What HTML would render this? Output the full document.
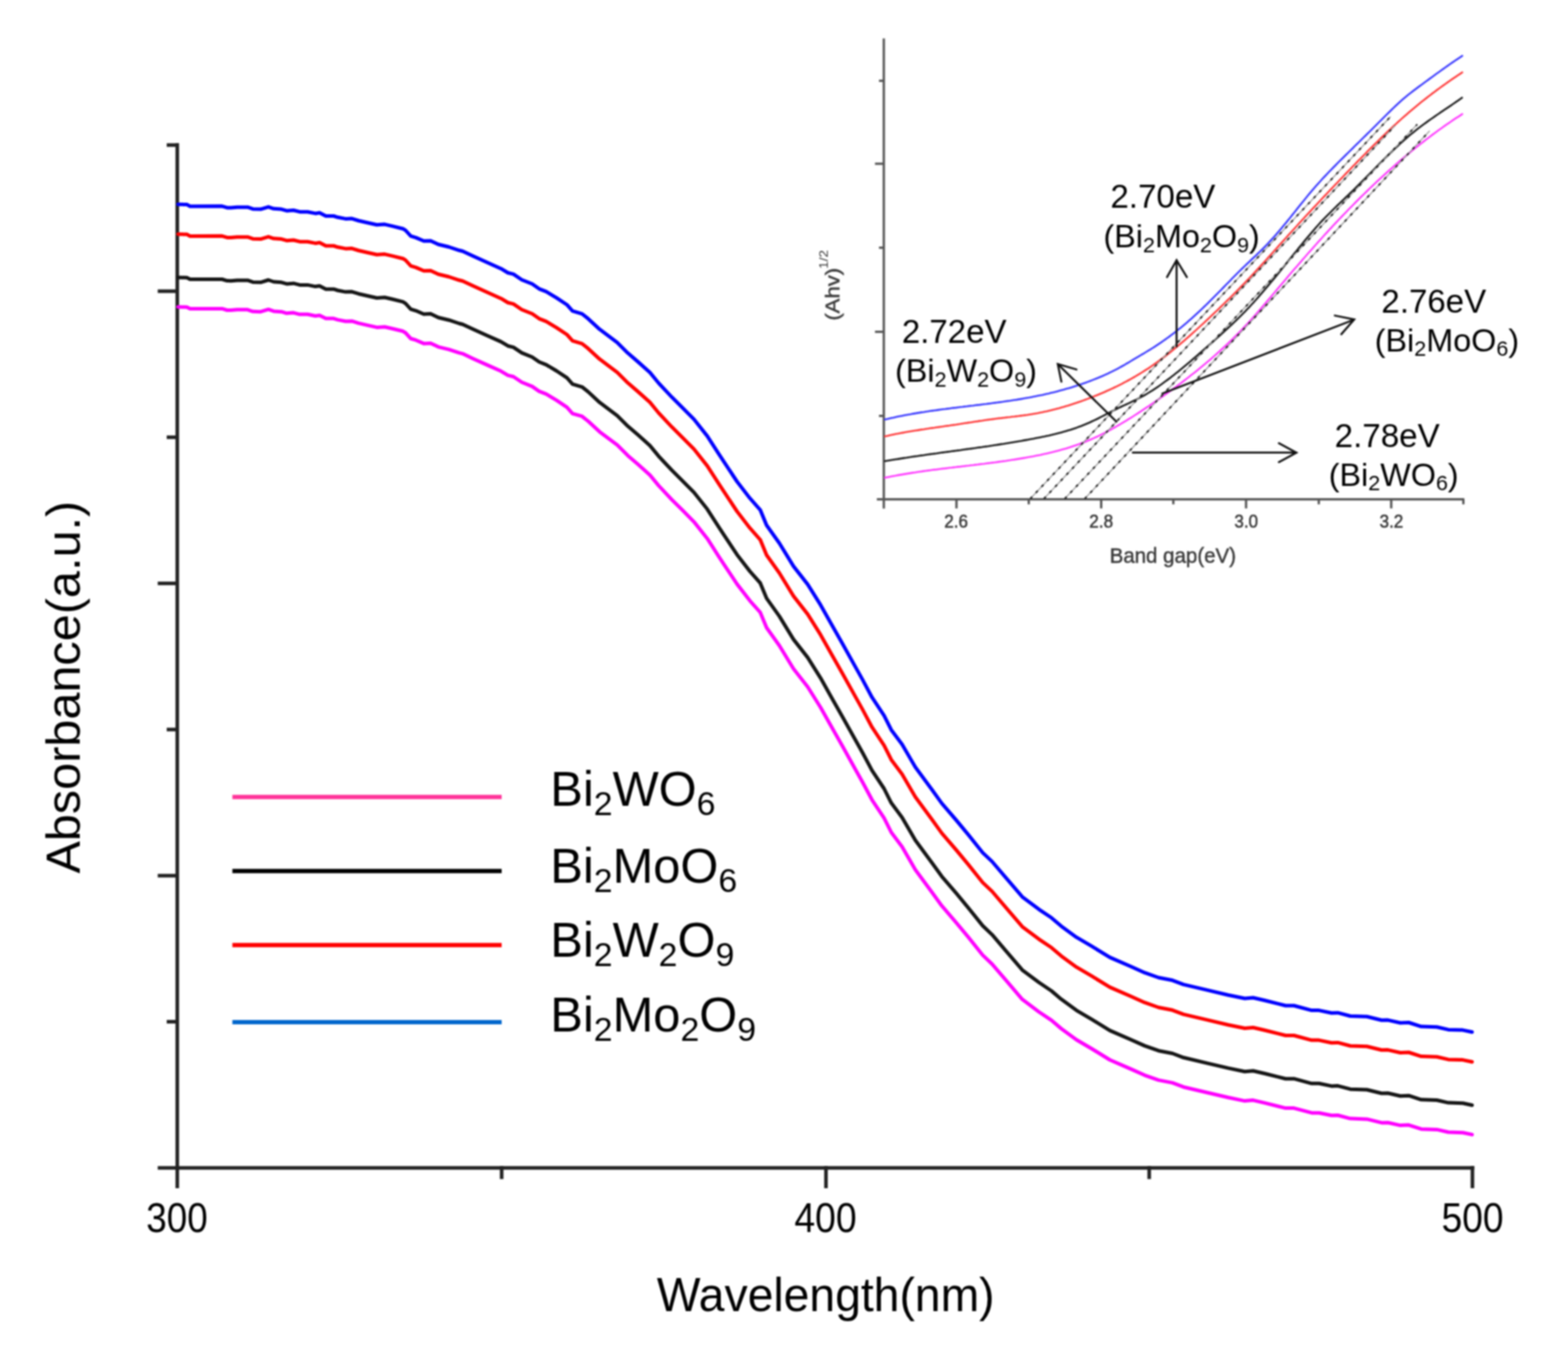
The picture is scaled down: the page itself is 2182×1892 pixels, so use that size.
<!DOCTYPE html><html><head><meta charset="utf-8"><title>Absorbance spectra</title><style>html,body{margin:0;padding:0;background:#fff;width:2182px;height:1892px;overflow:hidden}svg{display:block;filter:blur(0.8px)}text{font-family:"Liberation Sans",Arial,sans-serif}</style></head><body>
<svg width="2182" height="1892" viewBox="0 0 2182 1892">
<rect width="2182" height="1892" fill="#fff"/>
<g stroke="#222" stroke-width="5" fill="none">
<line x1="246.7" y1="199.3" x2="246.7" y2="1653"/>
<line x1="219.5" y1="1624.7" x2="2051.5" y2="1624.7"/>
<line x1="232" y1="201.8" x2="249" y2="201.8"/>
<line x1="232" y1="608.3" x2="249" y2="608.3"/>
<line x1="232" y1="1014.9" x2="249" y2="1014.9"/>
<line x1="232" y1="1421.4" x2="249" y2="1421.4"/>
<line x1="219.5" y1="405.1" x2="249" y2="405.1"/>
<line x1="219.5" y1="811.6" x2="249" y2="811.6"/>
<line x1="219.5" y1="1218.2" x2="249" y2="1218.2"/>
<line x1="1149.4" y1="1622" x2="1149.4" y2="1653"/>
<line x1="2049" y1="1622" x2="2049" y2="1653"/>
<line x1="698.1" y1="1622" x2="698.1" y2="1640.3"/>
<line x1="1599.2" y1="1622" x2="1599.2" y2="1640.3"/>
</g>
<text transform="translate(203.47,1714.30) scale(0.9012,1)" font-size="57" fill="#000" >300</text>
<text transform="translate(1105.43,1714.30) scale(0.9113,1)" font-size="57" fill="#000" >400</text>
<text transform="translate(2005.93,1714.30) scale(0.9081,1)" font-size="57" fill="#000" >500</text>
<text transform="translate(913.98,1824.00) scale(0.9686,1)" font-size="66.5" fill="#000" >Wavelength(nm)</text>
<text transform="translate(110.5,1215.37) rotate(-90) scale(1.0248,1)" font-size="66" fill="#000">Absorbance(a.u.)</text>
<path d="M247.7,426.9 L260.0,427.2 L264.5,429.5 L309.0,429.4 L316.0,431.5 L321.3,431.6 L330.0,430.8 L344.5,430.8 L351.8,433.3 L362.7,433.7 L373.5,430.4 L380.8,432.9 L391.7,433.7 L398.9,435.8 L408.4,435.1 L417.1,437.3 L428.0,437.3 L438.9,439.5 L444.7,438.7 L453.4,443.1 L464.3,443.1 L470.0,444.9 L480.9,447.0 L489.6,446.7 L499.0,449.6 L509.9,452.1 L524.4,455.4 L535.3,454.7 L546.2,457.2 L560.7,460.8 L564.3,463.0 L571.6,471.0 L578.9,473.2 L589.7,477.9 L599.2,477.5 L610.0,482.6 L624.5,486.1 L639.0,490.9 L643.9,492.1 L658.4,498.9 L677.7,507.6 L697.1,516.3 L706.8,522.1 L714.5,524.0 L726.1,531.8 L740.6,537.6 L750.3,544.4 L760.0,548.2 L774.5,556.9 L789.0,566.6 L796.7,575.3 L810.0,579.2 L818.4,585.9 L834.4,600.7 L858.9,619.1 L873.7,633.8 L888.0,646.1 L904.4,660.8 L916.6,675.6 L935.0,695.2 L950.0,710.1 L965.7,725.9 L984.2,749.2 L1000.0,773.8 L1007.9,785.8 L1025.7,812.6 L1043.6,835.8 L1057.9,851.9 L1066.8,873.3 L1084.6,898.3 L1104.3,930.5 L1123.9,955.5 L1141.8,984.0 L1157.9,1012.6 L1172.1,1037.6 L1190.0,1069.7 L1200.1,1087.7 L1213.5,1112.8 L1230.2,1137.9 L1240.3,1158.0 L1255.3,1178.1 L1273.8,1209.9 L1297.2,1241.7 L1310.6,1260.2 L1330.7,1283.6 L1347.4,1303.7 L1367.5,1328.8 L1380.5,1341.1 L1399.4,1363.2 L1422.6,1390.3 L1445.8,1407.7 L1463.2,1419.4 L1476.8,1431.0 L1498.0,1446.5 L1519.3,1459.0 L1544.5,1474.5 L1573.5,1487.1 L1592.9,1495.8 L1612.2,1502.6 L1631.6,1506.4 L1647.0,1512.2 L1680.0,1520.0 L1709.0,1526.8 L1732.2,1531.6 L1743.8,1530.6 L1760.0,1534.4 L1789.0,1541.6 L1800.6,1541.6 L1825.3,1548.2 L1835.5,1548.2 L1852.9,1551.8 L1861.6,1551.5 L1879.0,1556.1 L1902.2,1556.9 L1922.6,1561.9 L1931.3,1561.7 L1948.7,1565.6 L1960.3,1565.1 L1977.7,1570.7 L1999.5,1571.4 L2015.4,1575.0 L2035.8,1575.7 L2048.5,1578.4" fill="none" stroke="#ff00ff" stroke-width="5.0" stroke-linejoin="round" stroke-linecap="round"/>
<path d="M247.7,386.0 L260.0,386.3 L264.5,388.6 L309.0,388.5 L316.0,390.6 L321.3,390.7 L330.0,389.9 L344.5,389.9 L351.8,392.4 L362.7,392.8 L373.5,389.5 L380.8,392.0 L391.7,392.8 L398.9,394.9 L408.4,394.2 L417.1,396.4 L428.0,396.4 L438.9,398.6 L444.7,397.8 L453.4,402.2 L464.3,402.2 L470.0,404.0 L480.9,406.1 L489.6,405.8 L499.0,408.7 L509.9,411.2 L524.4,414.5 L535.3,413.8 L546.2,416.3 L560.7,419.9 L564.3,422.1 L571.6,430.1 L578.9,432.3 L589.7,437.0 L599.2,436.6 L610.0,441.7 L624.5,445.2 L639.0,450.0 L643.9,451.2 L658.4,458.0 L677.7,466.7 L697.1,475.4 L706.8,481.2 L714.5,483.1 L726.1,490.9 L740.6,496.7 L750.3,503.5 L760.0,507.3 L774.5,516.0 L789.0,525.7 L796.7,534.4 L810.0,538.3 L818.4,545.0 L834.4,559.8 L858.9,578.2 L873.7,592.9 L888.0,605.2 L904.4,619.9 L916.6,634.7 L935.0,654.3 L950.0,669.2 L965.7,685.0 L984.2,708.3 L1000.0,732.9 L1007.9,744.9 L1025.7,771.7 L1043.6,794.9 L1057.9,811.0 L1066.8,832.4 L1084.6,857.4 L1104.3,889.6 L1123.9,914.6 L1141.8,943.1 L1157.9,971.7 L1172.1,996.7 L1190.0,1028.8 L1200.1,1046.8 L1213.5,1071.9 L1230.2,1097.0 L1240.3,1117.1 L1255.3,1137.2 L1273.8,1169.0 L1297.2,1200.8 L1310.6,1219.3 L1330.7,1242.7 L1347.4,1262.8 L1367.5,1287.9 L1380.5,1300.2 L1399.4,1322.3 L1422.6,1349.4 L1445.8,1366.8 L1463.2,1378.5 L1476.8,1390.1 L1498.0,1405.6 L1519.3,1418.1 L1544.5,1433.6 L1573.5,1446.2 L1592.9,1454.9 L1612.2,1461.7 L1631.6,1465.5 L1647.0,1471.3 L1680.0,1479.1 L1709.0,1485.9 L1732.2,1490.7 L1743.8,1489.7 L1760.0,1493.5 L1789.0,1500.7 L1800.6,1500.7 L1825.3,1507.3 L1835.5,1507.3 L1852.9,1510.9 L1861.6,1510.6 L1879.0,1515.2 L1902.2,1516.0 L1922.6,1521.0 L1931.3,1520.8 L1948.7,1524.7 L1960.3,1524.2 L1977.7,1529.8 L1999.5,1530.5 L2015.4,1534.1 L2035.8,1534.8 L2048.5,1537.5" fill="none" stroke="#151515" stroke-width="5.0" stroke-linejoin="round" stroke-linecap="round"/>
<path d="M247.7,325.8 L260.0,326.1 L264.5,328.4 L309.0,328.3 L316.0,330.4 L321.3,330.5 L330.0,329.7 L344.5,329.7 L351.8,332.2 L362.7,332.6 L373.5,329.3 L380.8,331.8 L391.7,332.6 L398.9,334.7 L408.4,334.0 L417.1,336.2 L428.0,336.2 L438.9,338.4 L444.7,337.6 L453.4,342.0 L464.3,342.0 L470.0,343.8 L480.9,345.9 L489.6,345.6 L499.0,348.5 L509.9,351.0 L524.4,354.3 L535.3,353.6 L546.2,356.1 L560.7,359.7 L564.3,361.9 L571.6,369.9 L578.9,372.1 L589.7,376.8 L599.2,376.4 L610.0,381.5 L624.5,385.0 L639.0,389.8 L643.9,391.0 L658.4,397.8 L677.7,406.5 L697.1,415.2 L706.8,421.0 L714.5,422.9 L726.1,430.7 L740.6,436.5 L750.3,443.3 L760.0,447.1 L774.5,455.8 L789.0,465.5 L796.7,474.2 L810.0,478.1 L818.4,484.8 L834.4,499.6 L858.9,518.0 L873.7,532.7 L888.0,545.0 L904.4,559.7 L916.6,574.5 L935.0,594.1 L950.0,609.0 L965.7,624.8 L984.2,648.1 L1000.0,672.7 L1007.9,684.7 L1025.7,711.5 L1043.6,734.7 L1057.9,750.8 L1066.8,772.2 L1084.6,797.2 L1104.3,829.4 L1123.9,854.4 L1141.8,882.9 L1157.9,911.5 L1172.1,936.5 L1190.0,968.6 L1200.1,986.6 L1213.5,1011.7 L1230.2,1036.8 L1240.3,1056.9 L1255.3,1077.0 L1273.8,1108.8 L1297.2,1140.6 L1310.6,1159.1 L1330.7,1182.5 L1347.4,1202.6 L1367.5,1227.7 L1380.5,1240.0 L1399.4,1262.1 L1422.6,1289.2 L1445.8,1306.6 L1463.2,1318.3 L1476.8,1329.9 L1498.0,1345.4 L1519.3,1357.9 L1544.5,1373.4 L1573.5,1386.0 L1592.9,1394.7 L1612.2,1401.5 L1631.6,1405.3 L1647.0,1411.1 L1680.0,1418.9 L1709.0,1425.7 L1732.2,1430.5 L1743.8,1429.5 L1760.0,1433.3 L1789.0,1440.5 L1800.6,1440.5 L1825.3,1447.1 L1835.5,1447.1 L1852.9,1450.7 L1861.6,1450.4 L1879.0,1455.0 L1902.2,1455.8 L1922.6,1460.8 L1931.3,1460.6 L1948.7,1464.5 L1960.3,1464.0 L1977.7,1469.6 L1999.5,1470.3 L2015.4,1473.9 L2035.8,1474.6 L2048.5,1477.3" fill="none" stroke="#ff0000" stroke-width="5.0" stroke-linejoin="round" stroke-linecap="round"/>
<path d="M247.7,284.3 L260.0,284.6 L264.5,286.9 L309.0,286.8 L316.0,288.9 L321.3,289.0 L330.0,288.2 L344.5,288.2 L351.8,290.7 L362.7,291.1 L373.5,287.8 L380.8,290.3 L391.7,291.1 L398.9,293.2 L408.4,292.5 L417.1,294.7 L428.0,294.7 L438.9,296.9 L444.7,296.1 L453.4,300.5 L464.3,300.5 L470.0,302.3 L480.9,304.4 L489.6,304.1 L499.0,307.0 L509.9,309.5 L524.4,312.8 L535.3,312.1 L546.2,314.6 L560.7,318.2 L564.3,320.4 L571.6,328.4 L578.9,330.6 L589.7,335.3 L599.2,334.9 L610.0,340.0 L624.5,343.5 L639.0,348.3 L643.9,349.5 L658.4,356.3 L677.7,365.0 L697.1,373.7 L706.8,379.5 L714.5,381.4 L726.1,389.2 L740.6,395.0 L750.3,401.8 L760.0,405.6 L774.5,414.3 L789.0,424.0 L796.7,432.7 L810.0,436.6 L818.4,443.3 L834.4,458.1 L858.9,476.5 L873.7,491.2 L888.0,503.5 L904.4,518.2 L916.6,533.0 L935.0,552.6 L950.0,567.5 L965.7,583.3 L984.2,606.6 L1000.0,631.2 L1007.9,643.2 L1025.7,670.0 L1043.6,693.2 L1057.9,709.3 L1066.8,730.7 L1084.6,755.7 L1104.3,787.9 L1123.9,812.9 L1141.8,841.4 L1157.9,870.0 L1172.1,895.0 L1190.0,927.1 L1200.1,945.1 L1213.5,970.2 L1230.2,995.3 L1240.3,1015.4 L1255.3,1035.5 L1273.8,1067.3 L1297.2,1099.1 L1310.6,1117.6 L1330.7,1141.0 L1347.4,1161.1 L1367.5,1186.2 L1380.5,1198.5 L1399.4,1220.6 L1422.6,1247.7 L1445.8,1265.1 L1463.2,1276.8 L1476.8,1288.4 L1498.0,1303.9 L1519.3,1316.4 L1544.5,1331.9 L1573.5,1344.5 L1592.9,1353.2 L1612.2,1360.0 L1631.6,1363.8 L1647.0,1369.6 L1680.0,1377.4 L1709.0,1384.2 L1732.2,1389.0 L1743.8,1388.0 L1760.0,1391.8 L1789.0,1399.0 L1800.6,1399.0 L1825.3,1405.6 L1835.5,1405.6 L1852.9,1409.2 L1861.6,1408.9 L1879.0,1413.5 L1902.2,1414.3 L1922.6,1419.3 L1931.3,1419.1 L1948.7,1423.0 L1960.3,1422.5 L1977.7,1428.1 L1999.5,1428.8 L2015.4,1432.4 L2035.8,1433.1 L2048.5,1435.8" fill="none" stroke="#0000ff" stroke-width="5.0" stroke-linejoin="round" stroke-linecap="round"/>
<line x1="323.4" y1="1108.7" x2="698.1" y2="1108.7" stroke="#ff3399" stroke-width="6"/>
<line x1="323.4" y1="1211.7" x2="698.1" y2="1211.7" stroke="#000000" stroke-width="6"/>
<line x1="323.4" y1="1314.7" x2="698.1" y2="1314.7" stroke="#ff0000" stroke-width="6"/>
<line x1="323.4" y1="1421.9" x2="698.1" y2="1421.9" stroke="#0066cc" stroke-width="6"/>
<text x="765.8" y="1121" font-size="68" fill="#000">Bi<tspan font-size="47" dy="13.4">2</tspan><tspan dy="-13.4">WO</tspan><tspan font-size="47" dy="13.4">6</tspan></text>
<text x="765.8" y="1227.6" font-size="68" fill="#000">Bi<tspan font-size="47" dy="13.4">2</tspan><tspan dy="-13.4">MoO</tspan><tspan font-size="47" dy="13.4">6</tspan></text>
<text x="765.8" y="1330.8" font-size="68" fill="#000">Bi<tspan font-size="47" dy="13.4">2</tspan><tspan dy="-13.4">W</tspan><tspan font-size="47" dy="13.4">2</tspan><tspan dy="-13.4">O</tspan><tspan font-size="47" dy="13.4">9</tspan></text>
<text x="765.8" y="1434.6" font-size="68" fill="#000">Bi<tspan font-size="47" dy="13.4">2</tspan><tspan dy="-13.4">Mo</tspan><tspan font-size="47" dy="13.4">2</tspan><tspan dy="-13.4">O</tspan><tspan font-size="47" dy="13.4">9</tspan></text>
<g stroke="#555" stroke-width="3.2" fill="none">
<line x1="1229.9" y1="53.4" x2="1229.9" y2="707.5"/>
<line x1="1220.2" y1="694.6" x2="2037.7" y2="694.6"/>
<polyline points="2036.4,694.6 2036.4,701.6"/>
<line x1="1217.6" y1="227.8" x2="1229.9" y2="227.8"/>
<line x1="1217.6" y1="461.6" x2="1229.9" y2="461.6"/>
<line x1="1223.2" y1="112.4" x2="1229.9" y2="112.4"/>
<line x1="1223.2" y1="344.6" x2="1229.9" y2="344.6"/>
<line x1="1223.2" y1="578.6" x2="1229.9" y2="578.6"/>
<line x1="1331" y1="694.6" x2="1331" y2="707.3"/>
<line x1="1532.4" y1="694.6" x2="1532.4" y2="707.3"/>
<line x1="1734" y1="694.6" x2="1734" y2="707.3"/>
<line x1="1936" y1="694.6" x2="1936" y2="707.3"/>
<line x1="1431.6" y1="694.6" x2="1431.6" y2="701.6"/>
<line x1="1632.8" y1="694.6" x2="1632.8" y2="701.6"/>
<line x1="1835.2" y1="694.6" x2="1835.2" y2="701.6"/>
</g>
<text transform="translate(1313.91,734.20) scale(0.9369,1)" font-size="25.5" fill="#3a3a3a" stroke="#3a3a3a" stroke-width="0.7">2.6</text>
<text transform="translate(1515.81,734.20) scale(0.9369,1)" font-size="25.5" fill="#3a3a3a" stroke="#3a3a3a" stroke-width="0.7">2.8</text>
<text transform="translate(1717.82,734.20) scale(0.9245,1)" font-size="25.5" fill="#3a3a3a" stroke="#3a3a3a" stroke-width="0.7">3.0</text>
<text transform="translate(1919.71,734.20) scale(0.9333,1)" font-size="25.5" fill="#3a3a3a" stroke="#3a3a3a" stroke-width="0.7">3.2</text>
<text transform="translate(1544.15,782.80) scale(0.9660,1)" font-size="29.5" fill="#3a3a3a" stroke="#3a3a3a" stroke-width="0.6">Band gap(eV)</text>
<text transform="translate(1168.3,446.12) rotate(-90) scale(1.1393,1)" font-size="27" fill="#3a3a3a" stroke="#3a3a3a" stroke-width="0.6">(Ahv)</text>
<text transform="translate(1152.3,373.91) rotate(-90) scale(1.1355,1)" font-size="16.5" fill="#3a3a3a">1/2</text>
<path d="M1231.4,583.6 L1234.4,582.9 L1237.4,582.2 L1240.4,581.5 L1243.4,580.9 L1246.4,580.2 L1249.4,579.6 L1252.4,579.0 L1255.4,578.4 L1258.4,577.8 L1261.4,577.2 L1264.4,576.7 L1267.4,576.2 L1270.4,575.6 L1273.4,575.1 L1276.4,574.6 L1279.4,574.1 L1282.4,573.6 L1285.4,573.2 L1288.4,572.7 L1291.4,572.3 L1294.4,571.8 L1297.4,571.4 L1300.4,571.0 L1303.4,570.6 L1306.4,570.1 L1309.4,569.7 L1312.4,569.3 L1315.4,569.0 L1318.4,568.6 L1321.4,568.2 L1324.4,567.8 L1327.4,567.4 L1330.4,567.1 L1333.4,566.7 L1336.4,566.3 L1339.4,566.0 L1342.4,565.6 L1345.4,565.3 L1348.4,564.9 L1351.4,564.5 L1354.4,564.2 L1357.4,563.8 L1360.4,563.4 L1363.4,563.1 L1366.4,562.7 L1369.4,562.3 L1372.4,562.0 L1375.4,561.6 L1378.4,561.2 L1381.4,560.8 L1384.4,560.4 L1387.4,560.0 L1390.4,559.6 L1393.4,559.2 L1396.4,558.8 L1399.4,558.3 L1402.4,557.9 L1405.4,557.5 L1408.4,557.0 L1411.4,556.5 L1414.4,556.1 L1417.4,555.6 L1420.4,555.1 L1423.4,554.6 L1426.4,554.0 L1429.4,553.5 L1432.4,553.0 L1435.4,552.4 L1438.4,551.8 L1441.4,551.2 L1444.4,550.6 L1447.4,550.0 L1450.4,549.4 L1453.4,548.7 L1456.4,548.0 L1459.4,547.4 L1462.4,546.6 L1465.4,545.9 L1468.4,545.2 L1471.4,544.4 L1474.4,543.6 L1477.4,542.8 L1480.4,542.0 L1483.4,541.1 L1486.4,540.3 L1489.4,539.4 L1492.4,538.5 L1495.4,537.5 L1498.4,536.6 L1501.4,535.6 L1504.4,534.6 L1507.4,533.5 L1510.4,532.5 L1513.4,531.4 L1516.4,530.3 L1519.4,529.1 L1522.4,527.9 L1525.4,526.7 L1528.4,525.5 L1531.4,524.2 L1534.4,523.0 L1537.4,521.6 L1540.4,520.3 L1543.4,518.8 L1546.4,517.4 L1549.4,515.9 L1552.4,514.4 L1555.4,512.8 L1558.4,511.2 L1561.4,509.5 L1564.4,507.8 L1567.4,506.0 L1570.4,504.3 L1573.4,502.5 L1576.4,500.7 L1579.4,498.9 L1582.4,497.1 L1585.4,495.3 L1588.4,493.5 L1591.4,491.8 L1594.4,490.0 L1597.4,488.2 L1600.4,486.4 L1603.4,484.5 L1606.4,482.6 L1609.4,480.6 L1612.4,478.6 L1615.4,476.6 L1618.4,474.5 L1621.4,472.4 L1624.4,470.3 L1627.4,468.1 L1630.4,465.8 L1633.4,463.6 L1636.4,461.2 L1639.4,458.8 L1642.4,456.4 L1645.4,454.0 L1648.4,451.4 L1651.4,448.9 L1654.4,446.3 L1657.4,443.7 L1660.4,441.0 L1663.4,438.3 L1666.4,435.5 L1669.4,432.7 L1672.4,429.9 L1675.4,427.0 L1678.4,424.1 L1681.4,421.2 L1684.4,418.2 L1687.4,415.2 L1690.4,412.2 L1693.4,409.2 L1696.4,406.1 L1699.4,403.1 L1702.4,400.0 L1705.4,396.9 L1708.4,393.8 L1711.4,390.8 L1714.4,387.7 L1717.4,384.7 L1720.4,381.7 L1723.4,378.7 L1726.4,375.7 L1729.4,372.8 L1732.4,369.9 L1735.4,367.0 L1738.4,364.2 L1741.4,361.3 L1744.4,358.5 L1747.4,355.7 L1750.4,352.8 L1753.4,349.9 L1756.4,347.0 L1759.4,344.0 L1762.4,340.9 L1765.4,337.7 L1768.4,334.5 L1771.4,331.2 L1774.4,327.8 L1777.4,324.4 L1780.4,320.9 L1783.4,317.3 L1786.4,313.7 L1789.4,310.1 L1792.4,306.4 L1795.4,302.7 L1798.4,298.9 L1801.4,295.2 L1804.4,291.4 L1807.4,287.6 L1810.4,283.9 L1813.4,280.2 L1816.4,276.5 L1819.4,272.8 L1822.4,269.2 L1825.4,265.6 L1828.4,262.1 L1831.4,258.7 L1834.4,255.3 L1837.4,252.0 L1840.4,248.7 L1843.4,245.5 L1846.4,242.3 L1849.4,239.2 L1852.4,236.1 L1855.4,233.0 L1858.4,230.0 L1861.4,226.9 L1864.4,223.9 L1867.4,221.0 L1870.4,218.0 L1873.4,215.0 L1876.4,212.1 L1879.4,209.1 L1882.4,206.2 L1885.4,203.2 L1888.4,200.3 L1891.4,197.3 L1894.4,194.4 L1897.4,191.4 L1900.4,188.5 L1903.4,185.5 L1906.4,182.6 L1909.4,179.6 L1912.4,176.6 L1915.4,173.6 L1918.4,170.6 L1921.4,167.6 L1924.4,164.6 L1927.4,161.6 L1930.4,158.6 L1933.4,155.7 L1936.4,152.8 L1939.4,149.9 L1942.4,147.0 L1945.4,144.2 L1948.4,141.5 L1951.4,138.8 L1954.4,136.2 L1957.4,133.7 L1960.4,131.3 L1963.4,128.9 L1966.4,126.6 L1969.4,124.4 L1972.4,122.1 L1975.4,119.9 L1978.4,117.7 L1981.4,115.5 L1984.4,113.3 L1987.4,111.1 L1990.4,108.9 L1993.4,106.7 L1996.4,104.5 L1999.4,102.3 L2002.4,100.2 L2005.4,98.0 L2008.4,95.9 L2011.4,93.7 L2014.4,91.6 L2017.4,89.5 L2020.4,87.4 L2023.4,85.4 L2026.4,83.3 L2029.4,81.3 L2032.4,79.4 L2034.9,77.7" fill="none" stroke="#3a3aff" stroke-width="2.6" stroke-linecap="round" stroke-linejoin="round"/>
<path d="M1231.4,607.0 L1234.4,606.4 L1237.4,605.7 L1240.4,605.1 L1243.4,604.4 L1246.4,603.8 L1249.4,603.3 L1252.4,602.7 L1255.4,602.1 L1258.4,601.6 L1261.4,601.0 L1264.4,600.5 L1267.4,600.0 L1270.4,599.5 L1273.4,599.0 L1276.4,598.6 L1279.4,598.1 L1282.4,597.6 L1285.4,597.2 L1288.4,596.7 L1291.4,596.3 L1294.4,595.8 L1297.4,595.4 L1300.4,595.0 L1303.4,594.5 L1306.4,594.1 L1309.4,593.7 L1312.4,593.3 L1315.4,592.8 L1318.4,592.4 L1321.4,592.0 L1324.4,591.5 L1327.4,591.1 L1330.4,590.7 L1333.4,590.2 L1336.4,589.8 L1339.4,589.3 L1342.4,588.8 L1345.4,588.4 L1348.4,587.9 L1351.4,587.5 L1354.4,587.0 L1357.4,586.5 L1360.4,586.1 L1363.4,585.6 L1366.4,585.2 L1369.4,584.7 L1372.4,584.3 L1375.4,583.9 L1378.4,583.5 L1381.4,583.1 L1384.4,582.7 L1387.4,582.3 L1390.4,581.9 L1393.4,581.6 L1396.4,581.2 L1399.4,580.9 L1402.4,580.5 L1405.4,580.2 L1408.4,579.8 L1411.4,579.5 L1414.4,579.1 L1417.4,578.8 L1420.4,578.4 L1423.4,578.0 L1426.4,577.6 L1429.4,577.2 L1432.4,576.7 L1435.4,576.2 L1438.4,575.7 L1441.4,575.2 L1444.4,574.7 L1447.4,574.1 L1450.4,573.5 L1453.4,572.8 L1456.4,572.2 L1459.4,571.5 L1462.4,570.8 L1465.4,570.0 L1468.4,569.3 L1471.4,568.5 L1474.4,567.7 L1477.4,566.8 L1480.4,566.0 L1483.4,565.1 L1486.4,564.2 L1489.4,563.2 L1492.4,562.3 L1495.4,561.3 L1498.4,560.3 L1501.4,559.2 L1504.4,558.2 L1507.4,557.1 L1510.4,556.0 L1513.4,554.9 L1516.4,553.7 L1519.4,552.6 L1522.4,551.4 L1525.4,550.2 L1528.4,549.0 L1531.4,547.7 L1534.4,546.5 L1537.4,545.2 L1540.4,543.8 L1543.4,542.5 L1546.4,541.1 L1549.4,539.7 L1552.4,538.3 L1555.4,536.8 L1558.4,535.3 L1561.4,533.8 L1564.4,532.2 L1567.4,530.7 L1570.4,529.0 L1573.4,527.4 L1576.4,525.7 L1579.4,524.0 L1582.4,522.2 L1585.4,520.4 L1588.4,518.5 L1591.4,516.7 L1594.4,514.7 L1597.4,512.8 L1600.4,510.8 L1603.4,508.7 L1606.4,506.6 L1609.4,504.5 L1612.4,502.3 L1615.4,500.1 L1618.4,497.9 L1621.4,495.6 L1624.4,493.2 L1627.4,490.9 L1630.4,488.5 L1633.4,486.1 L1636.4,483.6 L1639.4,481.1 L1642.4,478.6 L1645.4,476.0 L1648.4,473.4 L1651.4,470.8 L1654.4,468.2 L1657.4,465.5 L1660.4,462.8 L1663.4,460.1 L1666.4,457.4 L1669.4,454.6 L1672.4,451.9 L1675.4,449.1 L1678.4,446.3 L1681.4,443.5 L1684.4,440.6 L1687.4,437.8 L1690.4,434.9 L1693.4,432.1 L1696.4,429.2 L1699.4,426.3 L1702.4,423.4 L1705.4,420.4 L1708.4,417.5 L1711.4,414.6 L1714.4,411.6 L1717.4,408.6 L1720.4,405.6 L1723.4,402.6 L1726.4,399.5 L1729.4,396.4 L1732.4,393.3 L1735.4,390.2 L1738.4,387.1 L1741.4,383.9 L1744.4,380.7 L1747.4,377.5 L1750.4,374.2 L1753.4,371.0 L1756.4,367.7 L1759.4,364.4 L1762.4,361.0 L1765.4,357.7 L1768.4,354.3 L1771.4,351.0 L1774.4,347.6 L1777.4,344.3 L1780.4,340.9 L1783.4,337.6 L1786.4,334.3 L1789.4,331.0 L1792.4,327.6 L1795.4,324.3 L1798.4,321.0 L1801.4,317.8 L1804.4,314.5 L1807.4,311.2 L1810.4,307.9 L1813.4,304.7 L1816.4,301.4 L1819.4,298.2 L1822.4,295.0 L1825.4,291.7 L1828.4,288.5 L1831.4,285.3 L1834.4,282.1 L1837.4,278.9 L1840.4,275.7 L1843.4,272.5 L1846.4,269.4 L1849.4,266.2 L1852.4,263.0 L1855.4,259.9 L1858.4,256.7 L1861.4,253.6 L1864.4,250.4 L1867.4,247.3 L1870.4,244.2 L1873.4,241.0 L1876.4,237.9 L1879.4,234.8 L1882.4,231.7 L1885.4,228.6 L1888.4,225.5 L1891.4,222.4 L1894.4,219.4 L1897.4,216.3 L1900.4,213.3 L1903.4,210.2 L1906.4,207.2 L1909.4,204.2 L1912.4,201.3 L1915.4,198.3 L1918.4,195.4 L1921.4,192.4 L1924.4,189.5 L1927.4,186.6 L1930.4,183.8 L1933.4,180.9 L1936.4,178.1 L1939.4,175.3 L1942.4,172.6 L1945.4,169.8 L1948.4,167.1 L1951.4,164.4 L1954.4,161.8 L1957.4,159.2 L1960.4,156.6 L1963.4,154.0 L1966.4,151.5 L1969.4,149.0 L1972.4,146.5 L1975.4,144.0 L1978.4,141.6 L1981.4,139.2 L1984.4,136.9 L1987.4,134.5 L1990.4,132.2 L1993.4,129.9 L1996.4,127.7 L1999.4,125.4 L2002.4,123.2 L2005.4,121.0 L2008.4,118.9 L2011.4,116.7 L2014.4,114.6 L2017.4,112.5 L2020.4,110.4 L2023.4,108.4 L2026.4,106.4 L2029.4,104.3 L2032.4,102.3 L2034.9,100.7" fill="none" stroke="#ff3a3a" stroke-width="2.6" stroke-linecap="round" stroke-linejoin="round"/>
<path d="M1231.4,641.5 L1234.4,641.0 L1237.4,640.5 L1240.4,640.0 L1243.4,639.5 L1246.4,639.0 L1249.4,638.6 L1252.4,638.1 L1255.4,637.6 L1258.4,637.1 L1261.4,636.7 L1264.4,636.2 L1267.4,635.8 L1270.4,635.3 L1273.4,634.9 L1276.4,634.5 L1279.4,634.0 L1282.4,633.6 L1285.4,633.2 L1288.4,632.7 L1291.4,632.3 L1294.4,631.9 L1297.4,631.5 L1300.4,631.1 L1303.4,630.7 L1306.4,630.2 L1309.4,629.8 L1312.4,629.4 L1315.4,629.0 L1318.4,628.6 L1321.4,628.2 L1324.4,627.8 L1327.4,627.4 L1330.4,627.0 L1333.4,626.6 L1336.4,626.2 L1339.4,625.7 L1342.4,625.3 L1345.4,624.9 L1348.4,624.5 L1351.4,624.1 L1354.4,623.7 L1357.4,623.3 L1360.4,622.8 L1363.4,622.4 L1366.4,622.0 L1369.4,621.5 L1372.4,621.1 L1375.4,620.7 L1378.4,620.2 L1381.4,619.8 L1384.4,619.3 L1387.4,618.9 L1390.4,618.4 L1393.4,617.9 L1396.4,617.5 L1399.4,617.0 L1402.4,616.5 L1405.4,616.0 L1408.4,615.5 L1411.4,615.0 L1414.4,614.5 L1417.4,614.0 L1420.4,613.5 L1423.4,612.9 L1426.4,612.4 L1429.4,611.9 L1432.4,611.3 L1435.4,610.7 L1438.4,610.2 L1441.4,609.6 L1444.4,609.0 L1447.4,608.4 L1450.4,607.8 L1453.4,607.2 L1456.4,606.5 L1459.4,605.9 L1462.4,605.2 L1465.4,604.5 L1468.4,603.8 L1471.4,603.0 L1474.4,602.2 L1477.4,601.4 L1480.4,600.6 L1483.4,599.7 L1486.4,598.8 L1489.4,597.9 L1492.4,596.9 L1495.4,595.9 L1498.4,594.9 L1501.4,593.8 L1504.4,592.7 L1507.4,591.5 L1510.4,590.3 L1513.4,589.0 L1516.4,587.7 L1519.4,586.3 L1522.4,584.9 L1525.4,583.5 L1528.4,582.0 L1531.4,580.4 L1534.4,578.9 L1537.4,577.3 L1540.4,575.7 L1543.4,574.2 L1546.4,572.6 L1549.4,571.1 L1552.4,569.6 L1555.4,568.2 L1558.4,566.7 L1561.4,565.3 L1564.4,563.9 L1567.4,562.5 L1570.4,561.1 L1573.4,559.7 L1576.4,558.2 L1579.4,556.8 L1582.4,555.3 L1585.4,553.7 L1588.4,552.1 L1591.4,550.5 L1594.4,548.8 L1597.4,547.0 L1600.4,545.1 L1603.4,543.3 L1606.4,541.3 L1609.4,539.3 L1612.4,537.3 L1615.4,535.2 L1618.4,533.0 L1621.4,530.8 L1624.4,528.6 L1627.4,526.4 L1630.4,524.0 L1633.4,521.7 L1636.4,519.3 L1639.4,516.9 L1642.4,514.5 L1645.4,512.0 L1648.4,509.5 L1651.4,507.0 L1654.4,504.5 L1657.4,501.9 L1660.4,499.3 L1663.4,496.8 L1666.4,494.2 L1669.4,491.5 L1672.4,488.9 L1675.4,486.3 L1678.4,483.6 L1681.4,481.0 L1684.4,478.4 L1687.4,475.7 L1690.4,473.1 L1693.4,470.4 L1696.4,467.7 L1699.4,465.0 L1702.4,462.3 L1705.4,459.6 L1708.4,456.8 L1711.4,454.1 L1714.4,451.2 L1717.4,448.4 L1720.4,445.5 L1723.4,442.6 L1726.4,439.6 L1729.4,436.6 L1732.4,433.6 L1735.4,430.4 L1738.4,427.3 L1741.4,424.0 L1744.4,420.8 L1747.4,417.5 L1750.4,414.1 L1753.4,410.7 L1756.4,407.2 L1759.4,403.7 L1762.4,400.2 L1765.4,396.6 L1768.4,393.0 L1771.4,389.4 L1774.4,385.8 L1777.4,382.1 L1780.4,378.4 L1783.4,374.7 L1786.4,371.0 L1789.4,367.3 L1792.4,363.6 L1795.4,359.8 L1798.4,356.1 L1801.4,352.4 L1804.4,348.7 L1807.4,344.9 L1810.4,341.3 L1813.4,337.6 L1816.4,333.9 L1819.4,330.3 L1822.4,326.8 L1825.4,323.3 L1828.4,319.8 L1831.4,316.4 L1834.4,313.0 L1837.4,309.7 L1840.4,306.5 L1843.4,303.4 L1846.4,300.3 L1849.4,297.3 L1852.4,294.3 L1855.4,291.3 L1858.4,288.4 L1861.4,285.5 L1864.4,282.6 L1867.4,279.8 L1870.4,276.9 L1873.4,274.0 L1876.4,271.2 L1879.4,268.3 L1882.4,265.4 L1885.4,262.5 L1888.4,259.5 L1891.4,256.5 L1894.4,253.5 L1897.4,250.5 L1900.4,247.5 L1903.4,244.4 L1906.4,241.4 L1909.4,238.3 L1912.4,235.3 L1915.4,232.2 L1918.4,229.2 L1921.4,226.1 L1924.4,223.1 L1927.4,220.1 L1930.4,217.2 L1933.4,214.2 L1936.4,211.3 L1939.4,208.4 L1942.4,205.5 L1945.4,202.7 L1948.4,199.9 L1951.4,197.2 L1954.4,194.5 L1957.4,191.9 L1960.4,189.3 L1963.4,186.8 L1966.4,184.4 L1969.4,182.0 L1972.4,179.6 L1975.4,177.3 L1978.4,175.0 L1981.4,172.8 L1984.4,170.6 L1987.4,168.4 L1990.4,166.3 L1993.4,164.2 L1996.4,162.1 L1999.4,160.0 L2002.4,158.0 L2005.4,155.9 L2008.4,153.9 L2011.4,151.8 L2014.4,149.8 L2017.4,147.8 L2020.4,145.8 L2023.4,143.7 L2026.4,141.6 L2029.4,139.6 L2032.4,137.5 L2034.6,135.9" fill="none" stroke="#1a1a1a" stroke-width="2.6" stroke-linecap="round" stroke-linejoin="round"/>
<path d="M1231.4,664.6 L1234.4,664.0 L1237.4,663.4 L1240.4,662.8 L1243.4,662.2 L1246.4,661.7 L1249.4,661.1 L1252.4,660.6 L1255.4,660.1 L1258.4,659.6 L1261.4,659.1 L1264.4,658.6 L1267.4,658.1 L1270.4,657.6 L1273.4,657.2 L1276.4,656.7 L1279.4,656.3 L1282.4,655.9 L1285.4,655.4 L1288.4,655.0 L1291.4,654.6 L1294.4,654.2 L1297.4,653.8 L1300.4,653.4 L1303.4,653.1 L1306.4,652.7 L1309.4,652.3 L1312.4,651.9 L1315.4,651.6 L1318.4,651.2 L1321.4,650.8 L1324.4,650.5 L1327.4,650.1 L1330.4,649.8 L1333.4,649.4 L1336.4,649.1 L1339.4,648.7 L1342.4,648.4 L1345.4,648.0 L1348.4,647.7 L1351.4,647.3 L1354.4,647.0 L1357.4,646.6 L1360.4,646.3 L1363.4,645.9 L1366.4,645.5 L1369.4,645.2 L1372.4,644.8 L1375.4,644.4 L1378.4,644.0 L1381.4,643.6 L1384.4,643.3 L1387.4,642.9 L1390.4,642.4 L1393.4,642.0 L1396.4,641.6 L1399.4,641.2 L1402.4,640.7 L1405.4,640.3 L1408.4,639.8 L1411.4,639.4 L1414.4,638.9 L1417.4,638.4 L1420.4,637.9 L1423.4,637.4 L1426.4,636.9 L1429.4,636.3 L1432.4,635.8 L1435.4,635.2 L1438.4,634.7 L1441.4,634.1 L1444.4,633.5 L1447.4,632.9 L1450.4,632.2 L1453.4,631.6 L1456.4,630.9 L1459.4,630.2 L1462.4,629.5 L1465.4,628.8 L1468.4,628.0 L1471.4,627.2 L1474.4,626.4 L1477.4,625.6 L1480.4,624.7 L1483.4,623.9 L1486.4,622.9 L1489.4,622.0 L1492.4,621.0 L1495.4,620.0 L1498.4,619.0 L1501.4,617.9 L1504.4,616.8 L1507.4,615.7 L1510.4,614.5 L1513.4,613.3 L1516.4,612.0 L1519.4,610.7 L1522.4,609.4 L1525.4,608.0 L1528.4,606.6 L1531.4,605.1 L1534.4,603.6 L1537.4,602.1 L1540.4,600.5 L1543.4,598.9 L1546.4,597.3 L1549.4,595.7 L1552.4,594.0 L1555.4,592.2 L1558.4,590.5 L1561.4,588.7 L1564.4,586.9 L1567.4,585.1 L1570.4,583.2 L1573.4,581.4 L1576.4,579.5 L1579.4,577.5 L1582.4,575.6 L1585.4,573.6 L1588.4,571.7 L1591.4,569.7 L1594.4,567.7 L1597.4,565.7 L1600.4,563.6 L1603.4,561.6 L1606.4,559.5 L1609.4,557.5 L1612.4,555.4 L1615.4,553.3 L1618.4,551.2 L1621.4,549.0 L1624.4,546.9 L1627.4,544.7 L1630.4,542.6 L1633.4,540.4 L1636.4,538.2 L1639.4,535.9 L1642.4,533.7 L1645.4,531.4 L1648.4,529.1 L1651.4,526.8 L1654.4,524.5 L1657.4,522.1 L1660.4,519.8 L1663.4,517.4 L1666.4,514.9 L1669.4,512.5 L1672.4,510.0 L1675.4,507.5 L1678.4,505.0 L1681.4,502.4 L1684.4,499.9 L1687.4,497.3 L1690.4,494.6 L1693.4,492.0 L1696.4,489.3 L1699.4,486.5 L1702.4,483.8 L1705.4,481.0 L1708.4,478.2 L1711.4,475.3 L1714.4,472.4 L1717.4,469.4 L1720.4,466.4 L1723.4,463.4 L1726.4,460.3 L1729.4,457.2 L1732.4,454.0 L1735.4,450.8 L1738.4,447.6 L1741.4,444.3 L1744.4,440.9 L1747.4,437.5 L1750.4,434.1 L1753.4,430.7 L1756.4,427.2 L1759.4,423.7 L1762.4,420.2 L1765.4,416.6 L1768.4,413.1 L1771.4,409.5 L1774.4,406.0 L1777.4,402.4 L1780.4,398.9 L1783.4,395.3 L1786.4,391.8 L1789.4,388.3 L1792.4,384.7 L1795.4,381.2 L1798.4,377.7 L1801.4,374.2 L1804.4,370.8 L1807.4,367.3 L1810.4,363.8 L1813.4,360.4 L1816.4,357.0 L1819.4,353.5 L1822.4,350.1 L1825.4,346.8 L1828.4,343.4 L1831.4,340.0 L1834.4,336.7 L1837.4,333.3 L1840.4,330.0 L1843.4,326.7 L1846.4,323.5 L1849.4,320.2 L1852.4,317.0 L1855.4,313.7 L1858.4,310.5 L1861.4,307.3 L1864.4,304.2 L1867.4,301.0 L1870.4,297.9 L1873.4,294.8 L1876.4,291.7 L1879.4,288.6 L1882.4,285.6 L1885.4,282.5 L1888.4,279.5 L1891.4,276.5 L1894.4,273.5 L1897.4,270.6 L1900.4,267.7 L1903.4,264.8 L1906.4,261.9 L1909.4,259.0 L1912.4,256.1 L1915.4,253.3 L1918.4,250.5 L1921.4,247.7 L1924.4,245.0 L1927.4,242.2 L1930.4,239.5 L1933.4,236.8 L1936.4,234.1 L1939.4,231.5 L1942.4,228.8 L1945.4,226.2 L1948.4,223.6 L1951.4,221.1 L1954.4,218.5 L1957.4,216.0 L1960.4,213.5 L1963.4,211.0 L1966.4,208.5 L1969.4,206.1 L1972.4,203.7 L1975.4,201.3 L1978.4,198.9 L1981.4,196.6 L1984.4,194.3 L1987.4,192.0 L1990.4,189.7 L1993.4,187.4 L1996.4,185.2 L1999.4,183.0 L2002.4,180.8 L2005.4,178.7 L2008.4,176.5 L2011.4,174.4 L2014.4,172.3 L2017.4,170.3 L2020.4,168.2 L2023.4,166.2 L2026.4,164.2 L2029.4,162.3 L2032.4,160.3 L2034.9,158.7" fill="none" stroke="#ff3aff" stroke-width="2.6" stroke-linecap="round" stroke-linejoin="round"/>
<g stroke="#9a9a9a" stroke-width="1.6" fill="none">
<line x1="1433.5" y1="694" x2="1935.1" y2="162.2"/>
<line x1="1452.5" y1="694" x2="1941.3" y2="174.6"/>
<line x1="1481.5" y1="694" x2="1972.2" y2="173"/>
<line x1="1509.3" y1="694" x2="1989.3" y2="182.3"/>
</g>
<g stroke="#1e1e1e" stroke-width="2.3" stroke-dasharray="4 7.5" fill="none">
<line x1="1433.5" y1="694" x2="1935.1" y2="162.2"/>
<line x1="1452.5" y1="694" x2="1941.3" y2="174.6"/>
<line x1="1481.5" y1="694" x2="1972.2" y2="173"/>
<line x1="1509.3" y1="694" x2="1989.3" y2="182.3"/>
</g>
<g stroke="#111" stroke-width="2.8" fill="none" stroke-linecap="round" stroke-linejoin="miter">
<line x1="1637.3" y1="482" x2="1637.3" y2="362.5"/><polyline points="1624,385.5 1637.3,362 1651.6,385.5"/>
<line x1="1553.5" y1="586.5" x2="1472.5" y2="507"/><polyline points="1498,514 1472,506.5 1477,531"/>
<line x1="1617.5" y1="547.5" x2="1883.5" y2="445"/><polyline points="1857.5,439 1884.5,444.5 1866.5,465"/>
<line x1="1576.4" y1="629.7" x2="1803.5" y2="629.7"/><polyline points="1779.6,616.6 1804,629.7 1779.6,642.9"/>
</g>
<text transform="translate(1545.19,289.00) scale(1.0139,1)" font-size="45.5" fill="#000" >2.70eV</text>
<text transform="translate(1254.90,476.60) scale(1.0118,1)" font-size="45.5" fill="#000" >2.72eV</text>
<text transform="translate(1922.30,434.80) scale(1.0111,1)" font-size="45.5" fill="#000" >2.76eV</text>
<text transform="translate(1857.29,621.60) scale(1.0139,1)" font-size="45.5" fill="#000" >2.78eV</text>
<text x="1535.5" y="344.3" font-size="45" fill="#000">(Bi<tspan font-size="30" dy="6.5">2</tspan><tspan dy="-6.5">Mo</tspan><tspan font-size="30" dy="6.5">2</tspan><tspan dy="-6.5">O</tspan><tspan font-size="30" dy="6.5">9</tspan><tspan dy="-6.5">)</tspan></text>
<text x="1245.5" y="531.0" font-size="45" fill="#000">(Bi<tspan font-size="30" dy="6.5">2</tspan><tspan dy="-6.5">W</tspan><tspan font-size="30" dy="6.5">2</tspan><tspan dy="-6.5">O</tspan><tspan font-size="30" dy="6.5">9</tspan><tspan dy="-6.5">)</tspan></text>
<text x="1913.0" y="488.8" font-size="45" fill="#000">(Bi<tspan font-size="30" dy="6.5">2</tspan><tspan dy="-6.5">MoO</tspan><tspan font-size="30" dy="6.5">6</tspan><tspan dy="-6.5">)</tspan></text>
<text x="1849.0" y="675.9" font-size="45" fill="#000">(Bi<tspan font-size="30" dy="6.5">2</tspan><tspan dy="-6.5">WO</tspan><tspan font-size="30" dy="6.5">6</tspan><tspan dy="-6.5">)</tspan></text>
</svg></body></html>
